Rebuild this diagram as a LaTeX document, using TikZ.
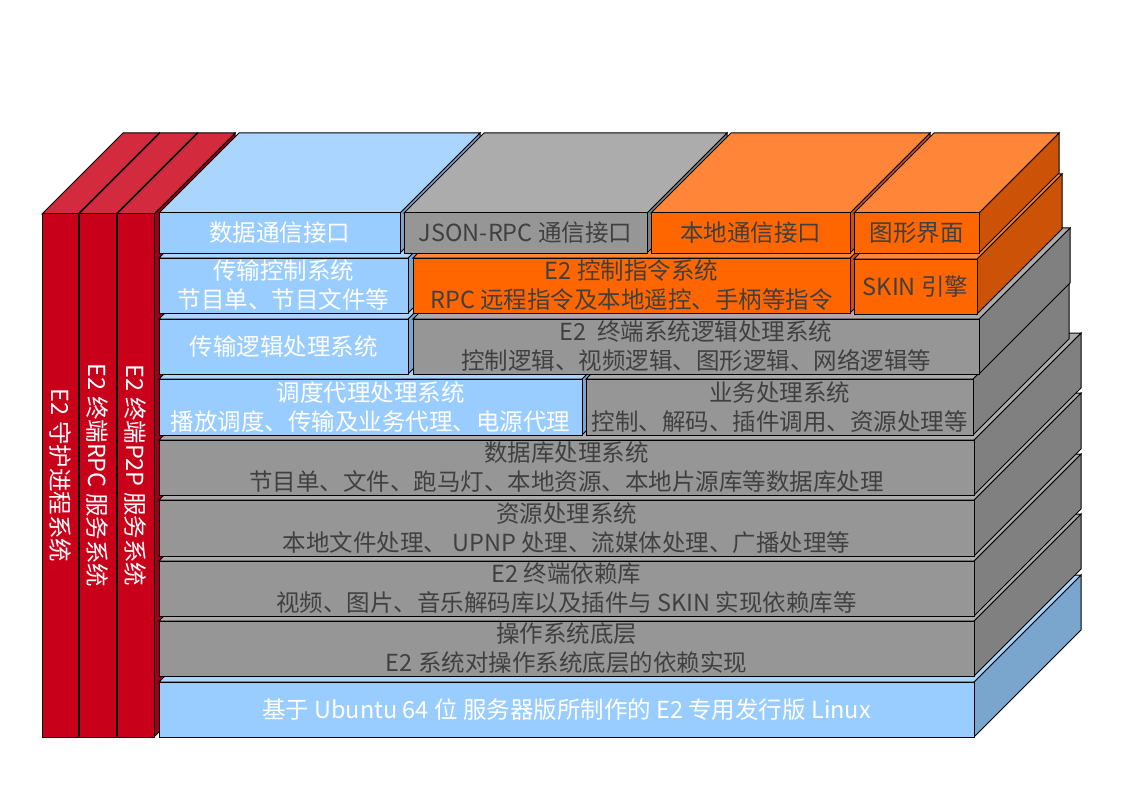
\documentclass[tikz,border=0pt]{standalone}
\usepackage{fontspec}
\setmainfont{Noto Sans CJK SC}
\definecolor{bluefront}{RGB}{153,204,255}
\definecolor{bluetop}{RGB}{170,213,255}
\definecolor{blueside}{RGB}{122,165,204}
\definecolor{grayfront}{RGB}{150,150,150}
\definecolor{graytop}{RGB}{172,172,172}
\definecolor{grayside}{RGB}{128,128,128}
\definecolor{orangefront}{RGB}{255,102,0}
\definecolor{orangetop}{RGB}{255,133,56}
\definecolor{orangeside}{RGB}{204,82,8}
\definecolor{redfront}{RGB}{200,0,25}
\definecolor{redtop}{RGB}{212,42,62}
\definecolor{redside}{RGB}{160,0,20}
\definecolor{darktext}{RGB}{64,64,64}
\tikzset{
  edge/.style={draw=black, line width=1pt, line join=miter},
  txt/.style={inner sep=0pt, align=center, font=\fontsize{23.5}{29}\selectfont},
}
% name, x1, y1, x2, y2, depth, colour prefix, text colour, text
\newcommand\blk[9]{%
  \filldraw[edge, fill=#7side] (#4,#3) -- ++(#6,-#6) -- ++(0,#5-#3) -- (#4,#5) -- cycle;
  \filldraw[edge, fill=#7top] (#2,#3) -- ++(#6,-#6) -- ++(#4-#2,0) -- (#4,#3) -- cycle;
  \filldraw[edge, fill=#7front] (#2,#3) rectangle (#4,#5);
  \node[txt, text=#8] (#1) at ({(#2+#4)/2},{(#3+#5)/2}) {#9};
}
\begin{document}
\begin{tikzpicture}[x=1pt,y=-1pt]
\useasboundingbox (0,0) rectangle (1123,794);
% red service columns
\blk{c1}{42}{214}{78}{737}{81}{red}{white}{}
\blk{c2}{79}{214}{116}{737}{81}{red}{white}{}
\blk{c3}{117}{214}{154}{737}{81}{red}{white}{}
\node[txt, text=white, rotate=-90] (c1t) at (60,475.5) {E2 守护进程系统};
\node[txt, text=white, rotate=-90] (c2t) at (97.5,475.5) {E2 终端RPC 服务系统};
\node[txt, text=white, rotate=-90] (c3t) at (135.5,475.5) {E2 终端P2P 服务系统};
% row 9
\blk{r9}{159}{682}{974}{737}{107}{blue}{white}{基于 Ubuntu 64 位 服务器版所制作的 E2 专用发行版 Linux}
% row 8
\blk{r8}{159}{621}{974}{676}{107}{gray}{darktext}{操作系统底层\\E2 系统对操作系统底层的依赖实现}
% row 7
\blk{r7}{159}{561}{974}{616}{107}{gray}{darktext}{E2 终端依赖库\\视频、图片、音乐解码库以及插件与 SKIN 实现依赖库等}
% row 6
\blk{r6}{159}{500}{974}{556}{107}{gray}{darktext}{资源处理系统\\本地文件处理、 UPNP 处理、流媒体处理、广播处理等}
% row 5
\blk{r5}{159}{440}{974}{495}{107}{gray}{darktext}{数据库处理系统\\节目单、文件、跑马灯、本地资源、本地片源库等数据库处理}
% row 4
\blk{r4a}{159}{379}{582}{435}{96}{blue}{white}{调度代理处理系统\\播放调度、传输及业务代理、电源代理}
\blk{r4b}{586}{379}{973}{435}{96}{gray}{darktext}{业务处理系统\\控制、解码、插件调用、资源处理等}
% row 3
\blk{r3a}{159}{319}{408}{374}{91}{blue}{white}{传输逻辑处理系统}
\blk{r3b}{413}{319}{979}{374}{91}{gray}{darktext}{E2\ \ 终端系统逻辑处理系统\\控制逻辑、视频逻辑、图形逻辑、网络逻辑等}
% row 2
\blk{r2a}{159}{258}{408}{313}{85}{blue}{white}{传输控制系统\\节目单、节目文件等}
\blk{r2b}{413}{258}{850}{313}{85}{orange}{darktext}{E2 控制指令系统\\RPC 远程指令及本地遥控、手柄等指令}
\blk{r2c}{854}{259}{977}{314}{85}{orange}{darktext}{SKIN 引擎}
% row 1
\blk{r1a}{159}{213}{400}{253}{80}{blue}{white}{数据通信接口}
\blk{r1b}{404}{213}{647}{253}{80}{gray}{darktext}{JSON-RPC 通信接口}
\blk{r1c}{651}{213}{850}{253}{80}{orange}{darktext}{本地通信接口}
\blk{r1d}{854}{213}{979}{253}{80}{orange}{darktext}{图形界面}
\end{tikzpicture}
\end{document}
